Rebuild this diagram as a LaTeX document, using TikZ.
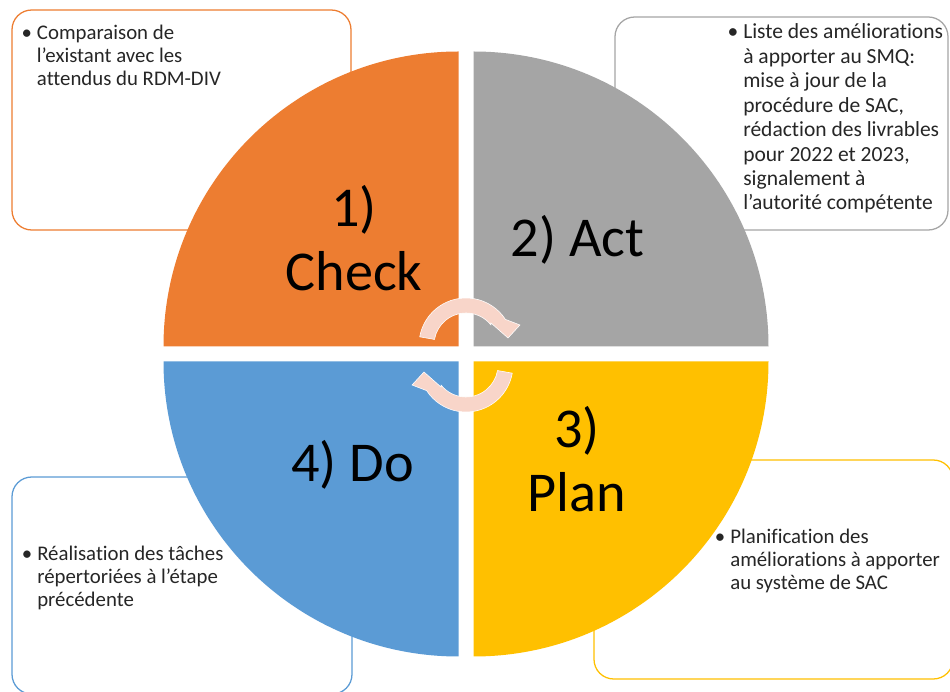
\documentclass[tikz,border=0pt]{standalone}
\usepackage{fontspec}
\setmainfont{Carlito}[Ligatures={TeX,NoCommon}]
\usepackage{tikz}

\definecolor{checkcol}{RGB}{237,125,49}
\definecolor{actcol}{RGB}{165,165,165}
\definecolor{plancol}{RGB}{255,192,0}
\definecolor{docol}{RGB}{91,155,213}
\definecolor{turncol}{RGB}{248,213,201}

\begin{document}
\begin{tikzpicture}[x=0.025cm,y=0.025cm,
  notebox/.style={rounded corners=14pt,line width=0.9pt,fill=white},
  % multi-line nodes sit on the baseline of their last line
  notetext/.style={anchor=base west,align=left,inner sep=0pt,text=black!85,font=\fontsize{14.8}{16.6}\selectfont},
  steplabel/.style={anchor=base,align=center,inner sep=0pt,font=\fontsize{40}{46}\selectfont},
  turnarrow/.pic={
    \fill[fill=turncol,draw=white,line width=0.4pt]
      (170:47) arc[start angle=170,end angle=33,radius=47]
      -- (54,20) -- (42,7) -- (25,22)
      -- (39:32) arc[start angle=39,end angle=170,radius=32] -- cycle;
  }
]
\useasboundingbox (0,0) rectangle (950,692);

% note boxes behind the wheel
\draw[notebox,draw=checkcol] (12,682) rectangle (351,462);
\draw[notebox,draw=actcol] (615,675) rectangle (948,462);
\draw[notebox,draw=plancol] (594,232) rectangle (953,13);
\draw[notebox,draw=docol] (12,215) rectangle (352,-2);

% the four quarters of the wheel
\fill[checkcol] (458.5,345.5) -- ++(90:295) arc[start angle=90,end angle=180,radius=295] -- cycle;
\fill[actcol] (473.5,345.5) -- ++(0:295) arc[start angle=0,end angle=90,radius=295] -- cycle;
\fill[plancol] (473.5,330.5) -- ++(270:295) arc[start angle=270,end angle=360,radius=295] -- cycle;
\fill[docol] (458.5,330.5) -- ++(180:295) arc[start angle=180,end angle=270,radius=295] -- cycle;

\node[steplabel] (check) at (354,401) {1)\\Check};
\node[steplabel] (act) at (577.5,435) {2) Act};
\node[steplabel] (plan) at (577,180) {3)\\Plan};
\node[steplabel] (do) at (352.5,210) {4) Do};

% turning arrows in the middle
\pic (topturn) at (466,347) {turnarrow};
\pic[rotate=180] (bottomturn) at (466,327) {turnarrow};

% notes
\node[notetext] (checknote) at (36.7,606)
  {\llap{\textbullet\hspace{3.5pt}}Comparaison de\\l’existant avec les\\attendus du RDM-DIV};
\node[notetext,font=\fontsize{15.3}{17.4}\selectfont] (actnote) at (743,482)
  {\llap{\textbullet\hspace{3.5pt}}Liste des améliorations\\à apporter au SMQ:\\mise à jour de la\\procédure de SAC,\\rédaction des livrables\\pour 2022 et 2023,\\signalement à\\l’autorité compétente};
\node[notetext] (plannote) at (730,102)
  {\llap{\textbullet\hspace{3.5pt}}Planification des\\améliorations à apporter\\au système de SAC};
\node[notetext] (donote) at (37,85)
  {\llap{\textbullet\hspace{3.5pt}}Réalisation des tâches\\répertoriées à l’étape\\précédente};
\end{tikzpicture}
\end{document}
